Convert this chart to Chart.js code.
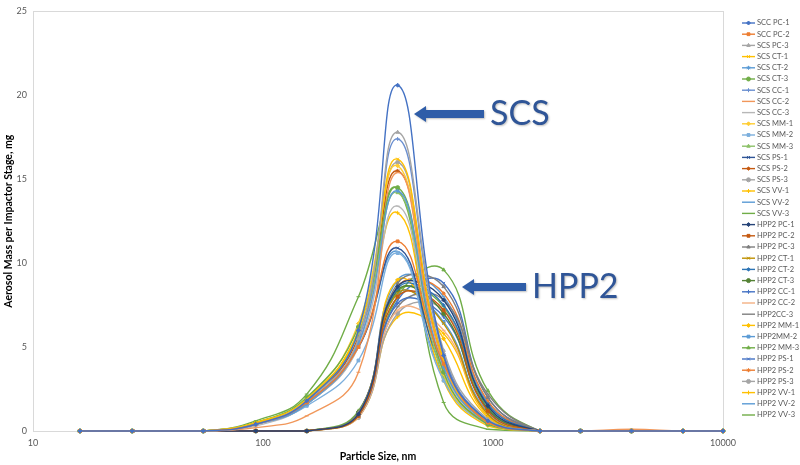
<!DOCTYPE html>
<html>
<head>
<meta charset="utf-8">
<script src="https://cdn.jsdelivr.net/npm/chart.js@4.4.1/dist/chart.umd.min.js"></script>
<style>
  html, body { margin: 0; padding: 0; background: #fff; }
  #wrap { width: 800px; height: 465px; position: relative; }
</style>
</head>
<body>
<div id="wrap"><canvas id="chart"></canvas></div>
<script>
// impactor stage sizes, nm
const particleSizes = [16, 27, 55, 93, 155, 260, 385, 610, 950, 1600, 2400, 4000, 6700, 10000];
const xTicks = [10, 100, 1000, 10000];

const scsNames = ['SCC PC-1', 'SCC PC-2', 'SCS PC-3', 'SCS CT-1', 'SCS CT-2', 'SCS CT-3',
  'SCS CC-1', 'SCS CC-2', 'SCS CC-3', 'SCS MM-1', 'SCS MM-2', 'SCS MM-3',
  'SCS PS-1', 'SCS PS-2', 'SCS PS-3', 'SCS VV-1', 'SCS VV-2', 'SCS VV-3'];
const hppNames = ['HPP2 PC-1', 'HPP2 PC-2', 'HPP2 PC-3', 'HPP2 CT-1', 'HPP2 CT-2', 'HPP2 CT-3',
  'HPP2 CC-1', 'HPP2 CC-2', 'HPP2CC-3', 'HPP2 MM-1', 'HPP2MM-2', 'HPP2 MM-3',
  'HPP2 PS-1', 'HPP2 PS-2', 'HPP2 PS-3', 'HPP2 VV-1', 'HPP2 VV-2', 'HPP2 VV-3'];

// aerosol mass per stage, mg
const scsValues = [
  [0, 0, 0, 0.4, 1.8, 6.0, 20.6, 4.5, 0.6, 0, 0, 0, 0, 0],
  [0, 0, 0, 0.4, 1.7, 5.0, 11.3, 4.0, 0.5, 0, 0, 0, 0, 0],
  [0, 0, 0, 0.4, 1.8, 5.5, 17.8, 4.8, 0.7, 0, 0, 0, 0, 0],
  [0, 0, 0, 0.5, 1.9, 6.0, 16.2, 4.2, 0.5, 0, 0, 0, 0, 0],
  [0, 0, 0, 0.4, 1.6, 5.2, 14.3, 3.8, 0.5, 0, 0, 0, 0, 0],
  [0, 0, 0, 0.5, 2.0, 6.2, 14.5, 3.5, 0.4, 0, 0, 0, 0, 0],
  [0, 0, 0, 0.4, 1.7, 5.4, 17.4, 4.6, 0.6, 0, 0, 0, 0, 0],
  [0, 0, 0, 0.2, 0.9, 3.5, 15.4, 4.0, 0.5, 0, 0, 0.1, 0, 0],
  [0, 0, 0, 0.3, 1.6, 5.0, 13.4, 3.6, 0.5, 0, 0, 0, 0, 0],
  [0, 0, 0, 0.5, 1.9, 6.4, 15.8, 3.4, 0.4, 0, 0, 0, 0, 0],
  [0, 0, 0, 0.4, 1.5, 4.2, 10.6, 3.0, 0.4, 0, 0, 0, 0, 0],
  [0, 0, 0, 0.5, 1.8, 5.8, 14.2, 3.2, 0.4, 0, 0, 0, 0, 0],
  [0, 0, 0, 0.4, 1.7, 5.0, 10.9, 3.6, 0.6, 0, 0, 0, 0, 0],
  [0, 0, 0, 0.4, 1.8, 5.6, 15.5, 4.2, 0.5, 0, 0, 0, 0, 0],
  [0, 0, 0, 0.4, 1.6, 5.2, 16.0, 4.4, 0.6, 0, 0, 0, 0, 0],
  [0, 0, 0, 0.5, 1.8, 5.9, 13.0, 3.0, 0.3, 0, 0, 0, 0, 0],
  [0, 0, 0, 0.4, 1.6, 5.0, 10.7, 3.2, 0.5, 0, 0, 0, 0, 0],
  [0, 0, 0, 0.6, 2.2, 8.0, 14.4, 1.7, 0.1, 0, 0, 0, 0, 0],
];
const hppValues = [
  [0, 0, 0, 0, 0, 1.0, 8.6, 7.8, 1.5, 0, 0, 0, 0, 0],
  [0, 0, 0, 0, 0, 0.9, 8.0, 7.2, 1.2, 0, 0, 0, 0, 0],
  [0, 0, 0, 0, 0, 1.1, 8.8, 8.6, 2.0, 0, 0, 0, 0, 0],
  [0, 0, 0, 0, 0, 0.9, 8.2, 6.4, 1.0, 0, 0, 0, 0, 0],
  [0, 0, 0, 0, 0, 1.0, 8.5, 7.5, 1.6, 0, 0, 0, 0, 0],
  [0, 0, 0, 0, 0, 1.1, 8.4, 7.0, 1.3, 0, 0, 0, 0, 0],
  [0, 0, 0, 0, 0, 0.9, 7.6, 6.8, 1.3, 0, 0, 0, 0, 0],
  [0, 0, 0, 0, 0, 0.8, 7.2, 6.0, 1.0, 0, 0, 0, 0, 0],
  [0, 0, 0, 0, 0, 0.9, 7.4, 7.8, 2.2, 0, 0, 0, 0, 0],
  [0, 0, 0, 0, 0, 1.0, 9.0, 5.5, 0.8, 0, 0, 0, 0, 0],
  [0, 0, 0, 0, 0, 1.0, 8.2, 6.5, 1.1, 0, 0, 0, 0, 0],
  [0, 0, 0, 0, 0, 1.2, 8.0, 9.6, 2.4, 0, 0, 0, 0, 0],
  [0, 0, 0, 0, 0, 1.0, 7.8, 8.8, 2.0, 0, 0, 0, 0, 0],
  [0, 0, 0, 0, 0, 0.9, 8.6, 8.2, 1.8, 0, 0, 0, 0, 0],
  [0, 0, 0, 0, 0, 0.8, 7.0, 7.2, 1.6, 0, 0, 0, 0, 0],
  [0, 0, 0, 0, 0, 0.8, 6.8, 5.8, 0.9, 0, 0, 0, 0, 0],
  [0, 0, 0, 0, 0, 1.0, 9.0, 8.0, 1.7, 0, 0, 0, 0, 0],
  [0, 0, 0, 0, 0, 1.1, 8.3, 7.4, 1.4, 0, 0, 0, 0, 0],
];

const scsColors = ['#4472C4', '#ED7D31', '#A5A5A5', '#FFC000', '#5B9BD5', '#70AD47',
  '#698ED0', '#F1975A', '#B7B7B7', '#FFCD33', '#7CAFDD', '#8CC168',
  '#2F5597', '#C55A11', '#A5A5A5', '#FFC000', '#5B9BD5', '#70AD47'];
const hppColors = ['#264478', '#C55A11', '#7F7F7F', '#BF9000', '#2E75B6', '#548235',
  '#4472C4', '#F4B183', '#7F7F7F', '#FFC000', '#5B9BD5', '#70AD47',
  '#4472C4', '#ED7D31', '#A5A5A5', '#FFC000', '#5B9BD5', '#70AD47'];
const markerCycle = ['rectRot', 'rect', 'triangle', 'crossRot', 'star', 'circle', 'cross', 'line', 'line'];

const names = scsNames.concat(hppNames);
const values = scsValues.concat(hppValues);
const colors = scsColors.concat(hppColors);

const datasets = names.map((name, i) => ({
  label: name,
  data: particleSizes.map((x, j) => ({ x, y: values[i][j] })),
  borderColor: colors[i],
  backgroundColor: colors[i],
  pointBackgroundColor: colors[i],
  pointBorderColor: colors[i],
  pointStyle: markerCycle[i % markerCycle.length],
  pointRadius: 2,
  pointBorderWidth: 1,
  borderWidth: 1.4,
  tension: 0.45,
  fill: false,
  clip: 4,
}));

const font = 'Lato, "Open Sans", sans-serif';

// light gray box round the plot area
const plotBox = {
  id: 'plotBox',
  beforeDatasetsDraw(chart) {
    const { ctx, chartArea: a } = chart;
    ctx.save();
    ctx.strokeStyle = '#d9d9d9';
    ctx.lineWidth = 1;
    ctx.strokeRect(Math.round(a.left) + 0.5, Math.round(a.top) + 0.5,
      Math.round(a.right - a.left), Math.round(a.bottom - a.top));
    ctx.restore();
  },
};

// right-hand legend: line + marker + label
const sideLegend = {
  id: 'sideLegend',
  afterDraw(chart) {
    const ctx = chart.ctx;
    ctx.save();
    ctx.font = '7.5px ' + font;
    ctx.textBaseline = 'middle';
    chart.data.datasets.forEach((ds, i) => {
      const y = 23 + i * 11.2;
      ctx.strokeStyle = ds.borderColor;
      ctx.fillStyle = ds.borderColor;
      ctx.lineWidth = 1.4;
      ctx.beginPath();
      ctx.moveTo(742, y);
      ctx.lineTo(755, y);
      ctx.stroke();
      ctx.lineWidth = 1;
      if (ds.pointStyle !== 'line') {
        Chart.helpers.drawPoint(ctx, { pointStyle: ds.pointStyle, radius: 2, rotation: 0, borderWidth: 1 }, 748.5, y);
      }
      ctx.fillStyle = '#595959';
      ctx.fillText(ds.label, 757, y);
    });
    ctx.restore();
  },
};

const callouts = [
  { text: 'SCS', tipX: 414, tailX: 484, y: 114, textX: 490 },
  { text: 'HPP2', tipX: 462, tailX: 526, y: 287, textX: 532 },
];

const calloutPlugin = {
  id: 'callouts',
  afterDraw(chart) {
    const ctx = chart.ctx;
    ctx.save();
    callouts.forEach((c) => {
      ctx.fillStyle = '#2F5DA8';
      ctx.shadowColor = 'rgba(0,0,0,0.25)';
      ctx.shadowBlur = 2;
      ctx.shadowOffsetX = 1;
      ctx.shadowOffsetY = 1;
      ctx.beginPath();
      ctx.moveTo(c.tipX, c.y);
      ctx.lineTo(c.tipX + 12, c.y - 8);
      ctx.lineTo(c.tipX + 12, c.y - 4);
      ctx.lineTo(c.tailX, c.y - 4);
      ctx.lineTo(c.tailX, c.y + 4);
      ctx.lineTo(c.tipX + 12, c.y + 4);
      ctx.lineTo(c.tipX + 12, c.y + 8);
      ctx.closePath();
      ctx.fill();
      ctx.fillStyle = '#2F5597';
      ctx.font = '34px ' + font;
      ctx.textBaseline = 'middle';
      ctx.fillText(c.text, c.textX, c.y);
    });
    ctx.restore();
  },
};

new Chart(document.getElementById('chart'), {
  type: 'line',
  data: { datasets },
  plugins: [plotBox, sideLegend, calloutPlugin],
  options: {
    responsive: true,
    maintainAspectRatio: false,
    animation: false,
    layout: { padding: { left: 0, right: 77, top: 7, bottom: 0 } },
    plugins: {
      legend: { display: false },
      tooltip: { enabled: false },
    },
    scales: {
      x: {
        type: 'logarithmic',
        min: 10,
        max: 10000,
        afterBuildTicks: (scale) => { scale.ticks = xTicks.map((v) => ({ value: v })); },
        afterFit: (scale) => { scale.height = 34; },
        grid: { display: false, drawTicks: false },
        border: { display: false },
        ticks: {
          padding: 7,
          color: '#595959',
          font: { family: font, size: 9 },
          maxRotation: 0,
          callback: (v) => String(v),
        },
        title: {
          display: true,
          text: 'Particle Size, nm',
          color: '#000',
          font: { family: font, size: 10.5, weight: 'bold' },
          padding: { top: 0, bottom: 2 },
        },
      },
      y: {
        min: 0,
        max: 25,
        afterFit: (scale) => { scale.width = 33; },
        grid: { display: false, drawTicks: false },
        border: { display: false },
        ticks: {
          stepSize: 5,
          padding: 6,
          color: '#595959',
          font: { family: font, size: 9 },
        },
        title: {
          display: true,
          text: 'Aerosol Mass per Impactor Stage, mg',
          color: '#000',
          font: { family: font, size: 10.5, weight: 'bold' },
          padding: { top: 2, bottom: 0 },
        },
      },
    },
  },
});
</script>
</body>
</html>
